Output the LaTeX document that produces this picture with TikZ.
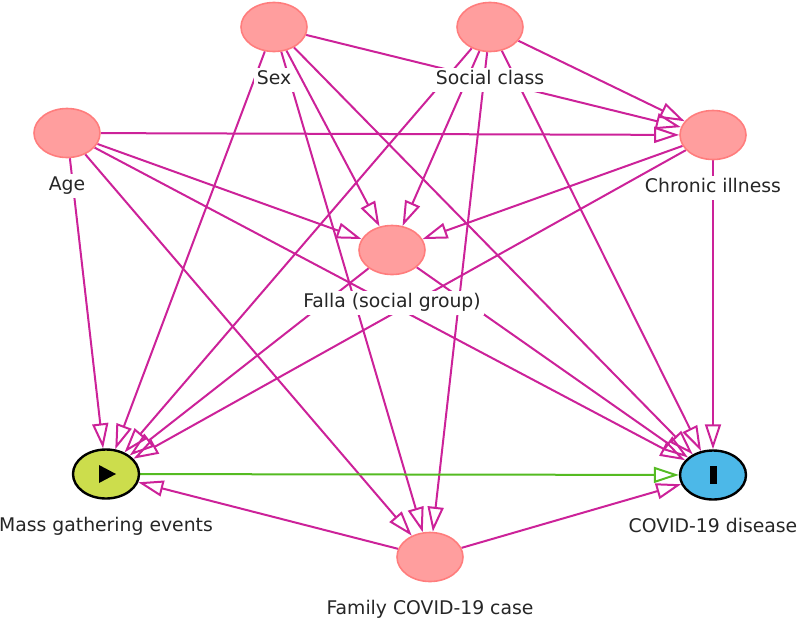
\documentclass[tikz,border=0pt]{standalone}
\usepackage{fontspec}
\setmainfont{DejaVu Sans}
\usepackage{tikz}
\usetikzlibrary{positioning, shapes.geometric, arrows.meta}
\usepackage{xcolor}
\definecolor{varfill}{HTML}{FF9E9E}
\definecolor{vardraw}{HTML}{FF7D7D}
\definecolor{biaspath}{HTML}{CC2299}
\definecolor{causalpath}{HTML}{55BB22}
\definecolor{expfill}{HTML}{CCDD4C}
\definecolor{outfill}{HTML}{4CB8E8}
\pgfdeclarelayer{background}
\pgfsetlayers{background,main}

\begin{document}
\begin{tikzpicture}[x=1pt, y=-1pt, node distance = 15pt,
    var/.style={ellipse, draw=vardraw, fill=varfill, line width=1.6pt, minimum width=66pt, minimum height=49pt, inner sep=0pt},
    expvar/.style={var, draw=black, fill=expfill, line width=2.4pt},
    outvar/.style={var, draw=black, fill=outfill, line width=2.4pt},
    lbl/.style={fill=white, inner sep=3pt, text height=14pt, text depth=4pt, text=black!85, font=\fontsize{18.8}{22}\selectfont},
    arrow/.style={-{Triangle[open, length=25pt, width=16pt]}, draw=biaspath, line width=2pt},
    causal/.style={arrow, draw=causalpath}]
        \useasboundingbox (0,0) rectangle (800,619);

        % Nodes
        \node[var] (sex) at (274,27) {};
        \node[var] (sc) at (490,27) {};
        \node[var] (age) at (67,133) {};
        \node[var] (ci) at (713,135) {};
        \node[var] (falla) at (392,250) {};
        \node[expvar] (mge) at (106,474) {};
        \node[outvar] (covid) at (713,475) {};
        \node[var] (fam) at (430,557) {};

        % Labels
        \node[lbl, below=of sex] (sexlbl) {Sex};
        \node[lbl, below=of sc] (sclbl) {Social class};
        \node[lbl, below=of age] (agelbl) {Age};
        \node[lbl, below=of ci] (cilbl) {Chronic illness};
        \node[lbl, below=of falla] (fallalbl) {Falla (social group)};
        \node[lbl, below=of mge] (mgelbl) {Mass gathering events};
        \node[lbl, below=of covid] (covidlbl) {COVID-19 disease};
        \node[lbl, below=of fam] (famlbl) {Family COVID-19 case};

        % Marks
        \fill ([shift={(-7pt,-9pt)}]mge.center) -- ([shift={(-7pt,9pt)}]mge.center) -- ([shift={(10pt,0pt)}]mge.center) -- cycle;
        \fill ([shift={(-3.5pt,-9pt)}]covid.center) rectangle ([shift={(3.5pt,9pt)}]covid.center);

        % Arrows
        \begin{pgfonlayer}{background}
        \draw[arrow] (sex) -- (ci);
        \draw[arrow] (sex) -- (mge);
        \draw[arrow] (sex) -- (falla);
        \draw[arrow] (sex) -- (fam);
        \draw[arrow] (sex) -- (covid);
        \draw[arrow] (sc) -- (ci);
        \draw[arrow] (sc) -- (mge);
        \draw[arrow] (sc) -- (falla);
        \draw[arrow] (sc) -- (fam);
        \draw[arrow] (sc) -- (covid);
        \draw[arrow] (age) -- (ci);
        \draw[arrow] (age) -- (mge);
        \draw[arrow] (age) -- (falla);
        \draw[arrow] (age) -- (fam);
        \draw[arrow] (age) -- (covid);
        \draw[arrow] (ci) -- (falla);
        \draw[arrow] (ci) -- (mge);
        \draw[arrow] (ci) -- (covid);
        \draw[arrow] (falla) -- (mge);
        \draw[arrow] (falla) -- (covid);
        \draw[arrow] (fam) -- (mge);
        \draw[arrow] (fam) -- (covid);
        \draw[causal] (mge) -- (covid);
        \end{pgfonlayer}
    \end{tikzpicture}
\end{document}
